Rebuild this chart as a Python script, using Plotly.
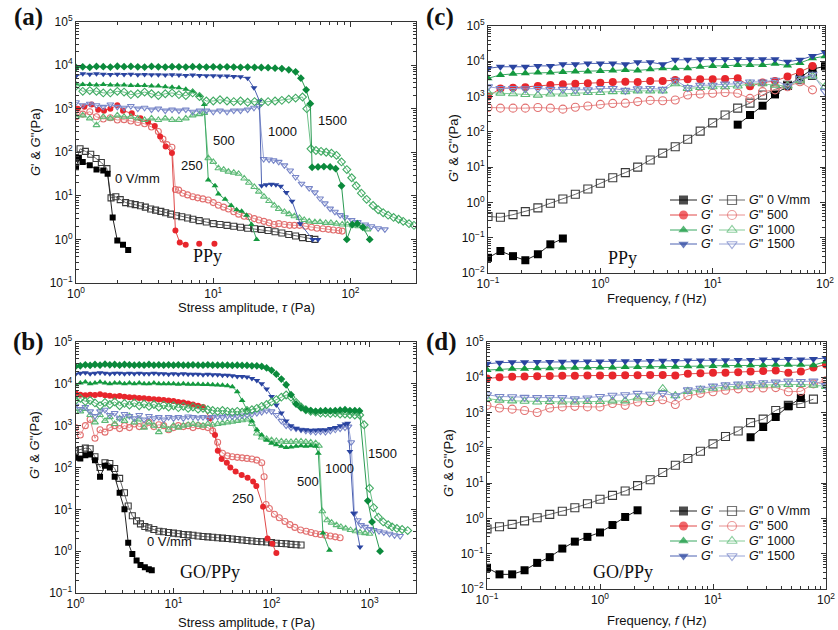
import math
import plotly.graph_objects as go

W, H = 838, 630

# ---------------- shared x grids ----------------
STRESS = [1.0, 1.12, 1.26, 1.41, 1.58, 1.78, 2.0, 2.24, 2.51, 2.82,
          3.16, 3.55, 3.98, 4.47, 5.01, 5.62, 6.31, 7.08, 7.94, 8.91,
          10.0, 11.2, 12.6, 14.1, 15.8, 17.8, 20.0, 22.4, 25.1, 28.2,
          31.6, 35.5, 39.8, 44.7, 50.1, 56.2, 63.1, 70.8, 79.4, 89.1,
          100, 112, 126, 141, 158, 178, 200, 224, 251, 282,
          316, 355, 398, 447, 501, 562, 631, 708, 794]
FREQ = [0.1, 0.129, 0.167, 0.215, 0.278, 0.359, 0.464, 0.599, 0.774, 1.0,
        1.29, 1.67, 2.15, 2.78, 3.59, 4.64, 5.99, 7.74, 10.0, 12.9,
        16.7, 21.5, 27.8, 35.9, 46.4, 59.9, 77.4, 100]

# ---------------- panel (a): PPy stress sweep ----------------
A_GP0 = [(1.0, 45), (1.05, 75), (1.12, 60), (1.26, 50), (1.41, 40), (1.58, 38), (1.7, 32),
         (1.85, 3.2), (2.0, 0.95), (2.2, 0.75), (2.4, 0.57)]
A_GPP0 = [(1.0, 60), (1.07, 120), (1.17, 105), (1.28, 90), (1.4, 72), (1.53, 58), (1.68, 42),
          (1.8, 9), (1.95, 9.5), (2.1, 8.2), (2.3, 7.0), (2.5, 6.6), (2.7, 6.3), (2.95, 5.9),
          (3.2, 5.5), (3.5, 5.0), (3.8, 4.7), (4.15, 4.4), (4.5, 4.1), (4.9, 3.8), (5.4, 3.5),
          (5.9, 3.3), (6.5, 3.1), (7.1, 2.9), (7.9, 2.7), (8.9, 2.5), (10, 2.3),
          (11.2, 2.2), (12.6, 2.1), (14.1, 2.0), (15.8, 1.9), (17.8, 1.8), (20, 1.75),
          (22.4, 1.7), (25.1, 1.6), (28.2, 1.5), (31.6, 1.4), (35.5, 1.3), (39.8, 1.2),
          (44.7, 1.1), (50.1, 1.05), (55, 1.0)]
A_GP250 = [(1.03, 1000), (1.15, 1100), (1.3, 1250), (1.45, 950), (1.6, 900), (1.78, 1000),
           (2.0, 1200), (2.2, 900), (2.55, 780), (2.95, 600), (3.35, 500), (3.75, 400),
           (4.1, 230), (4.5, 135), (5.0, 96), (5.3, 1.6), (5.7, 0.85), (6.3, 0.75)]
A_GP250_DOTS = [(7.9, 0.8), (10.2, 0.8)]
A_GPP250 = [(1.0, 650), (1.12, 750), (1.26, 850), (1.41, 650), (1.58, 580), (1.78, 620),
            (2.0, 550), (2.24, 560), (2.51, 520), (2.82, 480), (3.16, 450), (3.55, 380),
            (3.98, 300), (4.3, 200), (4.6, 150), (5.0, 130), (5.3, 14), (5.6, 13.5),
            (6.0, 11.5), (6.5, 10.5), (7.1, 9.5), (7.7, 9.0), (8.4, 8.5), (9.2, 8.0),
            (10, 7.0), (10.9, 6.1), (11.9, 5.5), (12.9, 5.0), (14.1, 4.3), (15.3, 3.8),
            (16.8, 3.4), (18.2, 3.3), (19.9, 3.0), (21.5, 2.8), (23.4, 2.6), (25.5, 2.4),
            (27.8, 2.2), (30, 2.3), (33, 2.2), (36, 2.1), (39, 2.1), (42.5, 2.1), (47, 2.0),
            (52, 1.9), (57, 1.8), (63, 1.75), (69, 1.7), (75, 1.65), (82, 1.6), (87, 1.55)]
A_GP500_HEAD = [3700, 3600, 3600, 3500, 3600, 3500, 3500, 3500, 3400, 3400,
                3400, 3300, 3300, 3200, 3100, 3000, 2800, 2500, 2000]
A_GP500_TAIL = [(8.6, 1250), (9.2, 23), (10.3, 17), (10.9, 11), (12.2, 8.3), (13.5, 6.0),
                (14.8, 4.8), (16.1, 4.4), (17.5, 3.6), (19, 2.2), (20.7, 1.0)]
A_GPP500_HEAD = [650, 700, 600, 420, 650, 600, 700, 650, 650, 600,
                 550, 600, 550, 600, 550, 550, 600, 700, 750]
A_GPP500_TAIL = [(8.6, 800), (9.2, 73), (10, 60), (10.9, 43), (11.9, 40), (12.9, 36), (14.1, 34),
                 (15.3, 32), (16.8, 25), (18.2, 20), (19.9, 16), (21.5, 12.5), (23.4, 9.6),
                 (25.5, 7.6), (27.8, 6.0), (30, 5.0), (33, 4.3), (35.7, 3.8), (39, 3.4),
                 (42.5, 3.1), (46, 2.8), (50, 2.6), (55, 2.5), (60, 2.5), (66, 2.4), (72, 2.4),
                 (79, 2.3), (87, 2.2), (95, 2.2), (104, 2.1), (114, 2.0), (125, 1.9), (133, 1.7)]
A_GP1000_HEAD = [5600, 6300, 6200, 6300, 6200, 6100, 6200, 6100, 6200, 6000,
                 6100, 6000, 6000, 5900, 6000, 5900, 5800, 5900, 5800, 5700,
                 5700, 5600, 5600, 5500, 5400]
A_GP1000_TAIL = [(17.8, 5000), (19.8, 3000), (21.7, 1500), (22.5, 17), (24.3, 18), (26.5, 18.5),
                 (28.6, 18), (31, 16.5), (34, 12), (37.5, 7.5), (43, 2.3), (53, 1.0), (58, 1.0)]
A_GPP1000_HEAD = [1400, 1200, 1300, 1200, 1100, 1250, 1100, 1050, 1150, 1000,
                  1050, 950, 1000, 900, 950, 900, 950, 850, 900, 900,
                  850, 900, 850, 900, 900, 950]
A_GPP1000_TAIL = [(19.8, 1050), (21.5, 1150), (23.3, 70), (25.5, 68), (27.5, 65), (30, 60),
                  (33, 50), (36.3, 38), (39.8, 27), (44, 19), (50, 15), (55, 12), (60, 8.7),
                  (65, 6.7), (71, 5.1), (77, 4.3), (84, 3.6), (91, 3.2), (102, 2.8), (113, 2.5),
                  (128, 2.2), (142, 2.0), (159, 1.8), (178, 1.7)]
A_GP1500_HEAD = [8800, 9100, 8900, 9300, 9200, 9000, 9400, 9200, 9300, 9100,
                 9000, 9300, 9100, 9000, 9200, 9100, 9000, 9200, 9100, 9000,
                 9100, 9000, 9100, 9000, 8900, 9000, 8900, 8800, 8700, 8500]
A_GP1500_TAIL = [(31.6, 8300), (35.5, 7800), (39.8, 7000), (43.5, 5000), (47.5, 2700), (51, 1300),
                 (52.5, 45), (58, 46), (64, 47), (71, 46), (78, 42), (86, 17), (94, 1.0),
                 (103, 2.2), (112, 2.3), (123, 1.9), (138, 1.0)]
A_GPP1500_HEAD = [3300, 2500, 2600, 2500, 2300, 2300, 2500, 2400, 2100, 2200,
                  2400, 2200, 2000, 2200, 2300, 2100, 2000, 2300, 1900, 1500,
                  1500, 1600, 1500, 1450, 1500, 1400, 1450, 1400, 1450, 1500,
                  1550, 1650, 1750, 1850]
A_GPP1500_TAIL = [(48, 1000), (51.5, 120), (56, 110), (61, 105), (66.5, 100), (72.6, 95), (79, 85),
                  (86, 60), (94, 40), (102, 26), (110, 17), (120, 11.5), (131, 8.3), (146, 6.0),
                  (159, 4.8), (173, 4.1), (188, 3.6), (206, 3.2), (224, 2.9), (242, 2.6),
                  (267, 2.3), (290, 2.1)]

# ---------------- panel (b): GO/PPy stress sweep ----------------
B_GP0 = [(1.0, 170), (1.12, 165), (1.26, 195), (1.41, 205), (1.58, 150), (1.78, 60), (2.0, 110),
         (2.24, 100), (2.51, 60), (2.82, 25), (3.16, 10), (3.45, 1.6), (3.8, 0.85), (4.2, 0.6),
         (4.6, 0.47), (5.1, 0.41), (5.6, 0.37), (6.0, 0.35)]
B_GPP0 = [(1.0, 250), (1.12, 270), (1.26, 290), (1.41, 280), (1.58, 180), (1.78, 100), (2.0, 130),
          (2.24, 125), (2.51, 95), (2.82, 55), (3.16, 25), (3.45, 12), (3.8, 7), (4.2, 5.3),
          (4.6, 4.5), (5.1, 3.9), (5.6, 3.6), (6.3, 3.3), (7.1, 3.0), (7.9, 2.9), (8.9, 2.8),
          (10, 2.7), (11.2, 2.6), (12.6, 2.5), (14.1, 2.45), (15.8, 2.4), (17.8, 2.3), (20, 2.25),
          (22.4, 2.2), (25.1, 2.15), (28.2, 2.1), (31.6, 2.05), (35.5, 2.0), (39.8, 1.95),
          (44.7, 1.9), (50.1, 1.85), (56.2, 1.8), (63.1, 1.75), (70.8, 1.7), (79.4, 1.68),
          (89.1, 1.65), (100, 1.6), (112, 1.55), (126, 1.52), (141, 1.5), (158, 1.45),
          (178, 1.42), (200, 1.4)]
B_GP250_HEAD = [6000, 5500, 5300, 5500, 5400, 5600, 5300, 5200, 5000, 5100,
                4900, 4800, 4700, 4600, 4500, 4400, 4300, 4200, 4100, 4000,
                3900, 3700, 3600, 3400, 3200, 3000]
B_GP250_TAIL = [(20, 2800), (23.5, 1500), (26.5, 600), (28.3, 250), (31, 160), (35, 130),
                (38, 100), (43, 80), (49.6, 66), (57, 57), (65, 46), (70, 36), (82, 11.6),
                (91, 2.0), (102, 1.5), (112, 0.9)]
B_GPP250_HEAD = [900, 600, 1000, 1400, 500, 800, 700, 900, 1000, 850,
                 1000, 900, 1100, 950, 1000, 1200, 950, 1050, 1000, 800,
                 900, 1000, 950, 1000, 900, 1000, 950, 900]
B_GPP250_TAIL = [(25.1, 750), (28.2, 400), (31.6, 220), (35.5, 190), (39.8, 180), (44.7, 175),
                 (50.1, 170), (56.2, 165), (63.1, 160), (70.8, 150), (79.4, 130), (84, 60),
                 (88, 13), (95, 10.5), (107, 7.6), (120, 6.3), (137, 5.1), (154, 4.3), (173, 3.7),
                 (198, 3.2), (226, 3.0), (253, 2.8), (282, 2.6), (316, 2.5), (355, 2.4),
                 (398, 2.3), (447, 2.2), (501, 2.1)]
B_GP500_HEAD = [9500, 10500, 11000, 10000, 10500, 11000, 10500, 10000, 10500, 10500,
                10000, 10500, 10000, 10500, 10000, 10000, 10500, 10000, 10000, 10000,
                10000, 9800, 10000, 9800, 9800, 9800, 9600, 9600, 9500, 9400,
                9200, 9000]
B_GP500_TAIL = [(39.8, 8500), (44.7, 6500), (50.1, 4000), (56.2, 2400), (63.1, 1300), (70.8, 800),
                (79.4, 600), (89.1, 450), (100, 380), (112, 350), (126, 320), (141, 300),
                (158, 310), (178, 320), (200, 330), (224, 320), (251, 330), (282, 320),
                (300, 220), (335, 2.7), (390, 1.05)]
B_GPP500_HEAD = [2500, 2200, 2500, 1800, 1200, 1800, 1300, 1600, 1100, 1500,
                 1300, 1700, 1200, 1400, 900, 1200, 1000, 700, 1000, 800,
                 1000, 900, 1000, 1050, 1100, 1050, 1000, 1100, 1050, 1100,
                 1150, 1200, 1250, 1300, 1350, 1400]
B_GPP500_TAIL = [(63.1, 1100), (70.8, 650), (79.4, 520), (89.1, 480), (100, 450), (112, 430),
                 (126, 420), (141, 410), (158, 410), (178, 420), (200, 420), (224, 410),
                 (251, 400), (282, 380), (305, 330), (330, 9), (370, 5.5), (410, 4.8), (460, 4.2),
                 (510, 3.8), (570, 3.5), (640, 3.2), (720, 3.0), (800, 2.8), (900, 2.7), (1000, 2.6)]
B_GP1000_HEAD = [17000, 18000, 18500, 17500, 18000, 18500, 18000, 17500, 18000, 18000,
                 17500, 18000, 17500, 18000, 17500, 17500, 18000, 17500, 17500, 17000,
                 17500, 17000, 17500, 17000, 17000, 17000, 16500, 17000, 16500, 16500,
                 16000, 16000, 15500]
B_GP1000_TAIL = [(44.7, 15000), (50.1, 15000), (56.2, 14500), (63.1, 13500), (70.8, 12000),
                 (79.4, 10000), (89.1, 7500), (100, 5000), (112, 3100), (126, 2000), (141, 1300),
                 (158, 1000), (178, 850), (200, 800), (224, 800), (251, 780), (282, 790),
                 (316, 800), (355, 800), (398, 850), (447, 900), (501, 1000), (562, 1100),
                 (600, 1150), (630, 240), (690, 8), (800, 1.25)]
B_GPP1000_HEAD = [3000, 2500, 2800, 2200, 1700, 2200, 2400, 1800, 2000, 1500,
                  1900, 1700, 1500, 1800, 1400, 1700, 1500, 1600, 1400, 1600,
                  1500, 1600, 1500, 1650, 1600, 1550, 1600, 1550, 1600, 1650,
                  1600, 1700, 1650, 1700, 1750, 1800, 1900, 2000, 2100, 2300,
                  2200]
B_GPP1000_TAIL = [(112, 1800), (126, 1300), (141, 1000), (158, 900), (178, 850), (200, 800),
                  (224, 750), (251, 720), (282, 700), (316, 720), (355, 700), (398, 750),
                  (447, 800), (501, 850), (562, 900), (610, 950), (650, 400), (700, 8),
                  (760, 5.5), (820, 4.2), (900, 3.8), (1000, 3.4), (1100, 3.2), (1250, 3.0),
                  (1400, 2.8), (1600, 2.6), (1800, 2.4), (2050, 2.3)]
B_GP1500_HEAD = [26000, 27000, 28500, 27500, 29000, 28000, 29500, 28500, 29000, 28000,
                 29000, 28500, 28000, 28500, 28000, 29000, 28000, 28500, 28000, 28500,
                 28000, 28500, 28000, 28000, 28500, 28000, 28000, 28500, 28000, 28000,
                 28000, 28000, 27500, 28000, 27500, 27500, 27000, 27000]
B_GP1500_TAIL = [(79.4, 26000), (89.1, 24000), (100, 21000), (112, 17000), (126, 13000),
                 (141, 9500), (158, 5500), (178, 3300), (200, 2700), (224, 2400), (251, 2300),
                 (282, 2200), (316, 2250), (355, 2300), (398, 2250), (447, 2300), (501, 2350),
                 (562, 2400), (631, 2300), (708, 2300), (790, 2250), (960, 16), (1060, 5),
                 (1280, 1.0)]
B_GPP1500_HEAD = [4000, 4500, 3800, 4000, 3500, 3000, 3600, 3200, 3700, 3000,
                  3400, 3100, 3500, 3000, 3300, 2900, 3200, 2800, 3100, 2800,
                  3000, 2700, 2900, 2600, 2800, 2500, 2600, 2400, 2300, 2200,
                  2300, 2200, 2100, 2200, 2100, 2300, 2400, 2600, 2900, 3200,
                  3700, 4200, 4800, 5400, 4800, 3600, 2800, 2400, 2200, 2100,
                  2000, 2000, 1950, 2000, 1900, 1900, 1850, 1800, 1800]
B_GPP1500_TAIL = [(880, 1050), (1000, 32), (1100, 11), (1230, 6.5), (1380, 5.0), (1550, 4.3),
                  (1700, 3.8), (1900, 3.5), (2150, 3.3), (2450, 3.1)]

# ---------------- panel (c): PPy frequency sweep ----------------
C_GP0 = [(0.1, 0.027), (0.129, 0.042), (0.167, 0.030), (0.215, 0.023), (0.278, 0.034),
         (0.359, 0.065), (0.464, 0.095)]
C_GP0_HIGH = [(16.7, 160), (21.5, 300), (27.8, 550), (35.9, 1150), (46.4, 2000), (59.9, 3500),
              (77.4, 6000), (100, 7200)]
C_GPP0 = [0.40, 0.38, 0.45, 0.55, 0.70, 0.95, 1.25, 1.7, 2.4, 3.5, 5.0, 7.0, 10, 16, 25, 38,
          62, 105, 180, 300, 470, 650, 1100, 1600, 2100, 3000, 4000]
C_GP500 = [1000, 1700, 1780, 1850, 2000, 2130, 2240, 2300, 2400, 2470, 2590, 2630, 2590, 2760,
           2760, 2930, 3080, 3080, 3080, 3150, 3300, 1950, 2500, 2750, 3700, 5000, 7400]
C_GPP500 = [490, 470, 470, 470, 490, 470, 440, 500, 540, 600, 640, 650, 720, 780, 760, 800,
            1110, 1180, 1240, 1300, 1240, 890, 1380, 1550, 1900, 2630, 1550]
C_GP1000 = [3300, 4100, 4400, 4600, 4800, 4800, 5000, 5100, 5100, 5300, 5500, 5700, 5500, 5900,
            6300, 6300, 6300, 7000, 7400, 7400, 7900, 7900, 7900, 8500, 7600, 9000, 12100, 14000]
C_GPP1000 = [1300, 1250, 1200, 1150, 1100, 1180, 1180, 1240, 1300, 1300, 1380, 1380, 1450, 1450,
             1450, 2300, 1700, 1800, 1900, 1900, 2000, 2300, 2300, 2100, 2000, 2900, 3800, 1900]
C_GP1500 = [6300, 7000, 7000, 7000, 7400, 7400, 8200, 8200, 8700, 8700, 8700, 8200, 9400, 9400,
            8200, 11000, 11000, 11400, 11400, 11400, 11400, 11400, 11400, 11400, 9700, 11000,
            14100, 17900]
C_GPP1500 = [1900, 1700, 1700, 1650, 1700, 1600, 1600, 1550, 1550, 1700, 1700, 1500, 1650, 1700,
             1600, 2900, 1800, 2100, 2100, 2250, 2300, 2600, 2600, 2900, 2000, 3300, 4300, 1400]

# ---------------- panel (d): GO/PPy frequency sweep ----------------
D_GP0 = [(0.1, 0.04), (0.129, 0.026), (0.167, 0.026), (0.215, 0.034), (0.278, 0.055),
         (0.359, 0.08), (0.464, 0.14), (0.599, 0.22), (0.774, 0.30), (1.0, 0.40), (1.29, 0.65),
         (1.67, 1.1), (2.15, 1.7)]
D_GP0_HIGH = [(21.5, 200), (27.8, 390), (35.9, 750), (46.4, 1500), (59.9, 2600)]
D_GPP0 = [0.5, 0.58, 0.68, 0.85, 1.05, 1.3, 1.6, 2.0, 2.6, 3.5, 4.5, 6.0, 8.5, 12.5, 20, 32, 50,
          80, 130, 210, 300, 520, 650, 1150, 1600, 1800, 2400]
D_GP500 = [9200, 10000, 10300, 10500, 10700, 10900, 11000, 11000, 11200, 11200, 11200, 11500,
           11500, 11700, 11700, 11200, 12500, 13000, 13500, 13500, 14000, 14500, 15000, 15500,
           13500, 14500, 19000, 23000]
D_GPP500 = [1600, 1350, 1250, 1150, 1000, 1350, 1450, 1500, 1450, 1450, 1800, 1600, 2000, 2050,
            2300, 1700, 3000, 3500, 3900, 4300, 4700, 5000, 5000, 5100, 3900, 4000, 6500, 8000]
D_GP1000 = [16000, 17000, 17500, 17500, 18000, 18000, 18500, 18500, 19000, 19000, 19000, 19500,
            19500, 20000, 20000, 20000, 20500, 20500, 21000, 21500, 21500, 22000, 22000, 22500,
            22500, 22500, 22000, 28000]
D_GPP1000 = [2500, 2250, 2150, 2100, 2000, 2050, 2000, 2000, 2050, 2050, 2150, 2150, 2600, 2350,
             4800, 3000, 4000, 4400, 4900, 5300, 5600, 5900, 6100, 6100, 6300, 6300, 6000, 5500]
D_GP1500 = [24000, 26000, 26500, 26500, 27000, 27000, 27500, 27500, 28000, 28000, 28500, 28500,
            29000, 29000, 29500, 29000, 30000, 30000, 30500, 30500, 31000, 31000, 32000, 31500,
            33000, 32000, 33000, 35000]
D_GPP1500 = [3200, 2850, 2800, 2700, 2650, 2650, 2650, 2450, 2600, 2850, 3100, 3200, 3500, 3300,
             3500, 3000, 4400, 4900, 5600, 6100, 6400, 6500, 7000, 7300, 7800, 7600, 7800, 5800]

LEGEND_LABELS = ["0 V/mm", "500", "1000", "1500"]

# ---------------- styles ----------------
SANS = "Liberation Sans, Arial, sans-serif"
SERIF = "Liberation Serif, Times New Roman, serif"
ST = {
    "k":  ("square", "#000000", "#222222"),
    "ko": ("square-open", "#3a3a3a", "#6a6a6a"),
    "r":  ("circle", "#e8262c", "#e04848"),
    "ro": ("circle-open", "#e27070", "#e89090"),
    "g":  ("triangle-up", "#14993f", "#3aa862"),
    "go": ("triangle-up-open", "#5cb976", "#86cc98"),
    "b":  ("triangle-down", "#2a44a0", "#4d62b2"),
    "bo": ("triangle-down-open", "#7886c8", "#98a4d6"),
    "dg": ("diamond", "#0b8a3c", "#2a9a52"),
    "dgo": ("diamond-open", "#42ab64", "#6cc088"),
}

fig = go.Figure()


def head_tail(head, tail=()):
    xs = STRESS[:len(head)] + [p[0] for p in tail]
    ys = list(head) + [p[1] for p in tail]
    return xs, ys


def unpair(p):
    return [a for a, _ in p], [b for _, b in p]


def add(ax, xs, ys, style, size, mode="lines+markers"):
    sym, mc, lc = ST[style]
    is_open = sym.endswith("-open")
    fig.add_trace(go.Scatter(
        x=xs, y=ys, mode=mode, xaxis=ax[0], yaxis=ax[1], showlegend=False,
        hoverinfo="skip",
        line=dict(color=lc, width=1),
        marker=dict(symbol=sym, size=size, color=mc,
                    line=dict(width=1.1 if is_open else 0, color=mc))))


AXA, AXB, AXC, AXD = ("x", "y"), ("x2", "y2"), ("x3", "y3"), ("x4", "y4")
SA, SC = 6, 8

# panel a
add(AXA, *unpair(A_GPP0), "ko", SA)
add(AXA, *unpair(A_GP0), "k", SA)
add(AXA, *unpair(A_GPP250), "ro", SA)
add(AXA, *unpair(A_GP250), "r", SA)
add(AXA, *unpair(A_GP250_DOTS), "r", SA, mode="markers")
add(AXA, *head_tail(A_GPP500_HEAD, A_GPP500_TAIL), "go", SA)
add(AXA, *head_tail(A_GP500_HEAD, A_GP500_TAIL), "g", SA)
add(AXA, *head_tail(A_GPP1000_HEAD, A_GPP1000_TAIL), "bo", SA)
add(AXA, *head_tail(A_GP1000_HEAD, A_GP1000_TAIL), "b", SA)
add(AXA, *head_tail(A_GPP1500_HEAD, A_GPP1500_TAIL), "dgo", SA)
add(AXA, *head_tail(A_GP1500_HEAD, A_GP1500_TAIL), "dg", SA)

# panel b
add(AXB, *unpair(B_GPP0), "ko", SA)
add(AXB, *unpair(B_GP0), "k", SA)
add(AXB, *head_tail(B_GPP250_HEAD, B_GPP250_TAIL), "ro", SA)
add(AXB, *head_tail(B_GP250_HEAD, B_GP250_TAIL), "r", SA)
add(AXB, *head_tail(B_GPP500_HEAD, B_GPP500_TAIL), "go", SA)
add(AXB, *head_tail(B_GP500_HEAD, B_GP500_TAIL), "g", SA)
add(AXB, *head_tail(B_GPP1000_HEAD, B_GPP1000_TAIL), "bo", SA)
add(AXB, *head_tail(B_GP1000_HEAD, B_GP1000_TAIL), "b", SA)
add(AXB, *head_tail(B_GPP1500_HEAD, B_GPP1500_TAIL), "dgo", SA)
add(AXB, *head_tail(B_GP1500_HEAD, B_GP1500_TAIL), "dg", SA)


def fz(vals):
    n = min(len(vals), len(FREQ))
    return FREQ[:n], list(vals[:n])


# panel c
add(AXC, *fz(C_GPP0), "ko", SC)
add(AXC, *unpair(C_GP0), "k", SC)
add(AXC, *unpair(C_GP0_HIGH), "k", SC)
add(AXC, *fz(C_GPP500), "ro", SC)
add(AXC, *fz(C_GP500), "r", SC)
add(AXC, *fz(C_GPP1000), "go", SC)
add(AXC, *fz(C_GP1000), "g", SC)
add(AXC, *fz(C_GPP1500), "bo", SC)
add(AXC, *fz(C_GP1500), "b", SC)

# panel d
add(AXD, *fz(D_GPP0), "ko", SC)
add(AXD, *unpair(D_GP0), "k", SC)
add(AXD, *unpair(D_GP0_HIGH), "k", SC)
add(AXD, *fz(D_GPP500), "ro", SC)
add(AXD, *fz(D_GP500), "r", SC)
add(AXD, *fz(D_GPP1000), "go", SC)
add(AXD, *fz(D_GP1000), "g", SC)
add(AXD, *fz(D_GPP1500), "bo", SC)
add(AXD, *fz(D_GP1500), "b", SC)

# ---------------- custom legends (c) and (d), drawn on a hidden pixel overlay ----------------
LEG_STYLES = [("k", "ko"), ("r", "ro"), ("g", "go"), ("b", "bo")]
LEG_ROWS = {"c": [200, 215, 230, 244], "d": [511, 526, 541, 556]}
annotations = []
for key, rows in LEG_ROWS.items():
    for (fs, os_), ry, lab in zip(LEG_STYLES, rows, LEGEND_LABELS):
        for st, x0, x1 in ((fs, 670, 697), (os_, 719, 745)):
            sym, mc, lc = ST[st]
            is_open = sym.endswith("-open")
            fig.add_trace(go.Scatter(
                x=[x0, (x0 + x1) / 2, x1], y=[ry, ry, ry], mode="lines+markers",
                xaxis="x5", yaxis="y5", showlegend=False, hoverinfo="skip",
                line=dict(color=lc, width=1),
                marker=dict(symbol=sym, size=[0, 9, 0], color=mc,
                            line=dict(width=1.2 if is_open else 0, color=mc))))
        for tx, t in ((700, "<i>G</i>'"), (748, "<i>G</i>\""), (766, lab)):
            annotations.append(dict(x=tx / W, y=1 - ry / H, xref="paper", yref="paper",
                                    text=t, showarrow=False, xanchor="left", yanchor="middle",
                                    borderpad=0,
                                    font=dict(family=SANS, size=12.5, color="#111")))

# ---------------- axes ----------------
def sup(e):
    return "10<sup>%s</sup>" % (("\u2212%d" % -e) if e < 0 else str(e))


def log_axis(rng, dom, anchor):
    lo, hi = rng
    decs = list(range(math.ceil(lo - 1e-9), math.floor(hi + 1e-9) + 1))
    return dict(type="log", range=[lo, hi], domain=dom, anchor=anchor,
                showline=True, linecolor="#333", linewidth=1, mirror="allticks",
                ticks="inside", ticklen=5, tickwidth=1, tickcolor="#333",
                tickmode="array", tickvals=[10 ** e for e in decs],
                ticktext=[sup(e) for e in decs],
                minor=dict(ticks="inside", ticklen=3, tickwidth=1, tickcolor="#333",
                           dtick="D1", showgrid=False),
                showgrid=False, zeroline=False, fixedrange=True,
                tickfont=dict(family=SANS, size=12, color="#111"))


PANELS = {
    "": ((76, 416), (21.5, 283), (0, math.log10(300)), (-1, 5)),
    "2": ((75.5, 416.3), (342, 593), (0, math.log10(3000)), (-1, 5)),
    "3": ((488, 825), (26, 273), (-1, 2), (-2, 5)),
    "4": ((487, 826), (342, 589), (-1, 2), (-2, 5)),
}
layout_axes = {}
for sfx, (xd, yd, xr, yr) in PANELS.items():
    layout_axes["xaxis" + sfx] = log_axis(xr, [xd[0] / W, xd[1] / W], "y" + sfx)
    layout_axes["yaxis" + sfx] = log_axis(yr, [1 - yd[1] / H, 1 - yd[0] / H], "x" + sfx)
layout_axes["xaxis5"] = dict(domain=[0, 1], range=[0, W], visible=False, fixedrange=True,
                             anchor="y5", showgrid=False, zeroline=False)
layout_axes["yaxis5"] = dict(domain=[0, 1], range=[H, 0], visible=False, fixedrange=True,
                             anchor="x5", showgrid=False, zeroline=False)


def txt(px, py, text, size=13, family=SANS, angle=0, bold=False, anchor="center"):
    if bold:
        text = "<b>%s</b>" % text
    annotations.append(dict(x=px / W, y=1 - py / H, xref="paper", yref="paper", text=text,
                            showarrow=False, textangle=angle, xanchor=anchor, yanchor="middle",
                            borderpad=0,
                            font=dict(family=family, size=size, color="#111")))


# panel letters
txt(29, 17, "(a)", 25, SERIF, bold=True)
txt(29, 342, "(b)", 25, SERIF, bold=True)
txt(440, 17, "(c)", 25, SERIF, bold=True)
txt(441, 342, "(d)", 25, SERIF, bold=True)

# axis titles
YT = "<i>G</i>' &amp; <i>G</i>\"(Pa)"
txt(36, 142, YT, 13, angle=-90)
txt(34, 445, YT, 13, angle=-90)
txt(453, 148, YT, 13, angle=-90)
txt(448, 463, YT, 13, angle=-90)
txt(246, 307, "Stress amplitude, <i>\u03c4</i> (Pa)", 13)
txt(246, 622, "Stress amplitude, <i>\u03c4</i> (Pa)", 13)
txt(656, 298, "Frequency, <i>f</i> (Hz)", 13)
txt(656, 620, "Frequency, <i>f</i> (Hz)", 13)

# curve labels
for px, py, t in [(137, 178, "0 V/mm"), (192, 166, "250"), (224, 140, "500"),
                  (282, 131, "1000"), (332, 121, "1500"),
                  (169, 541, "0 V/mm"), (243, 498, "250"), (308, 482, "500"),
                  (339, 468, "1000"), (382, 453, "1500")]:
    txt(px, py, t, 13)

txt(207, 256, "PPy", 18, SERIF)
txt(210, 572, "GO/PPy", 18, SERIF)
txt(622, 258, "PPy", 18, SERIF)
txt(623, 572, "GO/PPy", 18, SERIF)

fig.update_layout(
    width=W, height=H, margin=dict(l=0, r=0, t=0, b=0, autoexpand=False),
    paper_bgcolor="white", plot_bgcolor="rgba(0,0,0,0)", showlegend=False,
    annotations=annotations, **layout_axes)

fig.write_html("out.html", config={"displayModeBar": False, "staticPlot": True},
               post_script="document.body.style.margin='0';document.body.style.padding='0';")
